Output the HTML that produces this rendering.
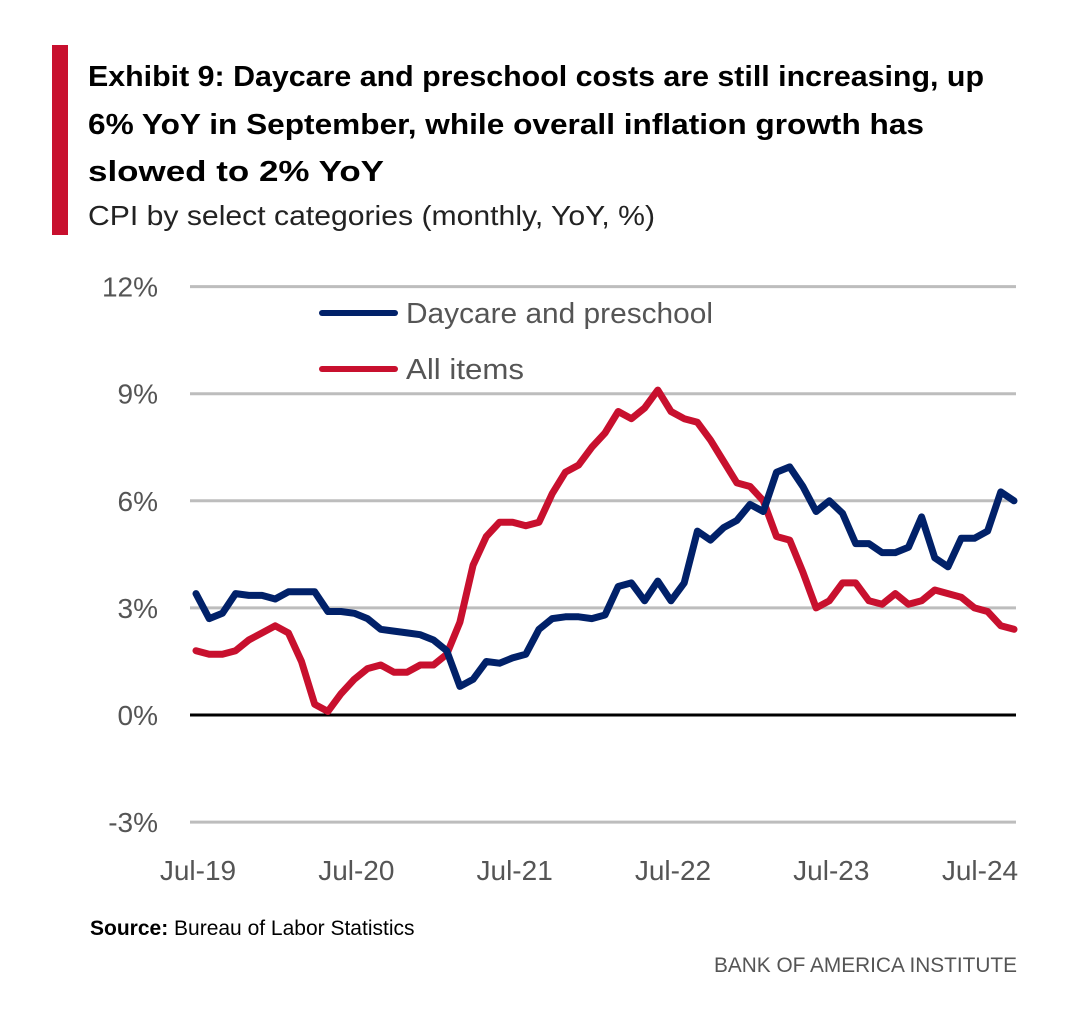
<!DOCTYPE html>
<html><head><meta charset="utf-8"><style>
body{margin:0;background:#fff;}
svg{display:block;font-family:"Liberation Sans",sans-serif;}
</style></head><body>
<svg id="chart" width="1070" height="1036" viewBox="0 0 1070 1036">
<rect x="52" y="45" width="16" height="190" fill="#c8102e"/>
<g font-weight="bold" font-size="29" fill="#000">
<text x="88" y="86" textLength="896" lengthAdjust="spacingAndGlyphs">Exhibit 9: Daycare and preschool costs are still increasing, up</text>
<text x="88" y="134" textLength="836" lengthAdjust="spacingAndGlyphs">6% YoY in September, while overall inflation growth has</text>
<text x="88" y="181" textLength="296" lengthAdjust="spacingAndGlyphs">slowed to 2% YoY</text>
</g>
<text x="88" y="225" font-size="28" fill="#222" textLength="567" lengthAdjust="spacingAndGlyphs">CPI by select categories (monthly, YoY, %)</text>
<g id="grid"></g><g id="yaxis"></g><g id="xaxis"></g><g id="series"></g>
<g>
<line x1="322" y1="313" x2="395" y2="313" stroke="#012169" stroke-width="6" stroke-linecap="round"/>
<text x="406" y="323" font-size="29" fill="#555" textLength="307" lengthAdjust="spacingAndGlyphs">Daycare and preschool</text>
<line x1="322" y1="369" x2="395" y2="369" stroke="#c8102e" stroke-width="6" stroke-linecap="round"/>
<text x="406" y="379" font-size="29" fill="#555" textLength="118" lengthAdjust="spacingAndGlyphs">All items</text>
</g>
<text x="90" y="935" font-size="21" fill="#000"><tspan font-weight="bold">Source:</tspan> Bureau of Labor Statistics</text>
<text x="1017" y="972" font-size="21" fill="#555" text-anchor="end" textLength="303" lengthAdjust="spacingAndGlyphs">BANK OF AMERICA INSTITUTE</text>
</svg>
<script>
const yTicks=[12,9,6,3,0,-3];
const yTickLabels=["12%","9%","6%","3%","0%","-3%"];
const xTickLabels=["Jul-19","Jul-20","Jul-21","Jul-22","Jul-23","Jul-24"];
const xTickIndex=[0,12,24,36,48,60];
const daycare=[3.4,2.7,2.85,3.4,3.35,3.35,
3.25,3.45,3.45,3.45,2.9,2.9,2.85,2.7,2.4,2.35,2.3,2.25,
2.1,1.8,0.8,1.0,1.5,1.45,1.6,1.7,2.4,2.7,2.75,2.75,
2.7,2.8,3.6,3.7,3.2,3.75,3.2,3.7,5.15,4.9,5.25,5.45,
5.9,5.7,6.8,6.95,6.4,5.7,6.0,5.65,4.8,4.8,4.55,4.55,
4.7,5.55,4.4,4.15,4.95,4.95,5.15,6.25,6.0];
const allItems=[1.8,1.7,1.7,1.8,2.1,2.3,
2.5,2.3,1.5,0.3,0.1,0.6,1.0,1.3,1.4,1.2,1.2,1.4,
1.4,1.7,2.6,4.2,5.0,5.4,5.4,5.3,5.4,6.2,6.8,7.0,
7.5,7.9,8.5,8.3,8.6,9.1,8.5,8.3,8.2,7.7,7.1,6.5,
6.4,6.0,5.0,4.9,4.0,3.0,3.2,3.7,3.7,3.2,3.1,3.4,
3.1,3.2,3.5,3.4,3.3,3.0,2.9,2.5,2.4];
const NS="http://www.w3.org/2000/svg";
const X0=196,X1=1014,PL=190,PR=1016;
const n=daycare.length;
function xs(i){return X0+(X1-X0)*i/(n-1);}
function ys(v){return 715-v*35.7;}
function mk(tag,attrs,parent){const e=document.createElementNS(NS,tag);for(const k in attrs)e.setAttribute(k,attrs[k]);parent.appendChild(e);return e;}
const grid=document.getElementById('grid'),ya=document.getElementById('yaxis'),xa=document.getElementById('xaxis'),se=document.getElementById('series');
yTicks.forEach((t,i)=>{
  const l=mk('line',{x1:PL,x2:PR,y1:ys(t),y2:ys(t),stroke:t===0?'#000':'#bdbdbd','stroke-width':3},grid);
  
  
  const tx=mk('text',{x:158,y:ys(t)+10,'text-anchor':'end','font-size':28,fill:'#555'},ya);
  tx.textContent=yTickLabels[i];
  
  
});
xTickLabels.forEach((lab,i)=>{
  let x=xs(xTickIndex[i]);
  const tx=mk('text',{x:Math.min(x+2,980),y:880,'text-anchor':'middle','font-size':28,fill:'#555'},xa);
  tx.textContent=lab;
  
  
});
function line(data,color,name){
  const d=data.map((v,i)=>(i?'L':'M')+xs(i).toFixed(1)+' '+ys(v).toFixed(1)).join(' ');
  const p=mk('path',{d:d,fill:'none',stroke:color,'stroke-width':7,'stroke-linejoin':'round','stroke-linecap':'round'},se);
  
  
}
line(allItems,'#c8102e','all-items-line');
line(daycare,'#012169','daycare-line');
</script>
</body></html>
